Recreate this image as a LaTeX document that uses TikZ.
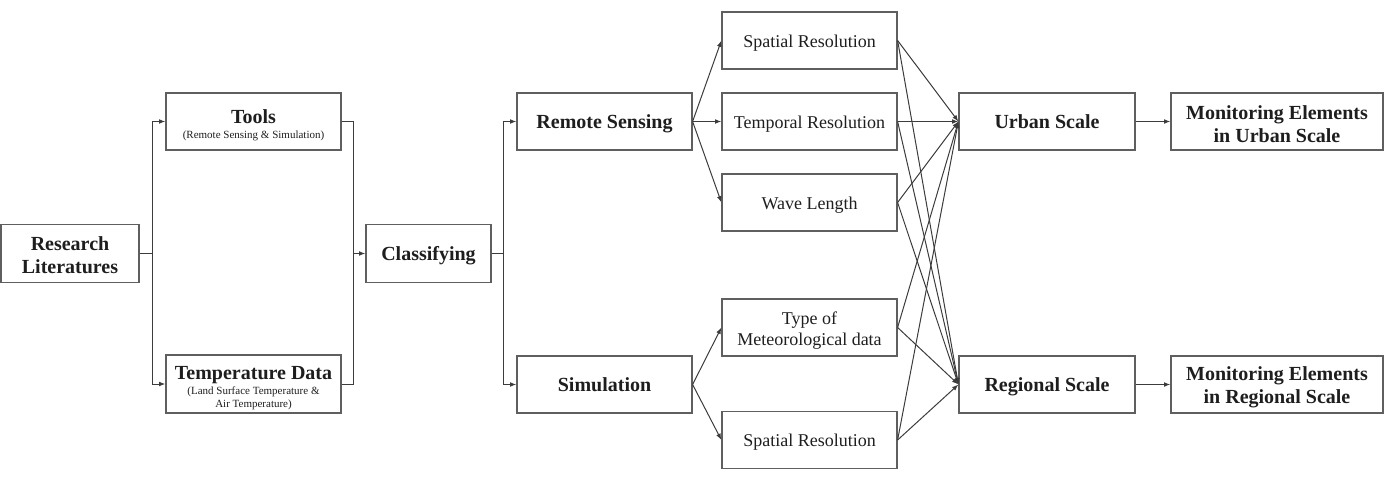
\documentclass[tikz,border=0pt]{standalone}
\usepackage{fontspec}
\setmainfont{Liberation Serif}
\usetikzlibrary{arrows.meta}
\definecolor{boxc}{RGB}{95,95,95}
\definecolor{linec}{RGB}{60,60,60}
\definecolor{txtc}{RGB}{30,30,30}
\begin{document}
\begin{tikzpicture}[x=0.5pt,y=-0.5pt,
  box/.style={draw=boxc, line width=0.6pt, minimum width=87.5pt, minimum height=28.5pt, inner sep=0pt, align=center, text=txtc},
  big/.style={font=\fontsize{10}{11.5}\selectfont\bfseries},
  mid/.style={font=\fontsize{9}{10.5}\selectfont},
  small/.style={font=\fontsize{5.5}{6.5}\selectfont},
  one/.style={text height=6.8pt, text depth=0pt},
  arr/.style={draw=linec, line width=0.5pt, -{Latex[length=3.2pt,width=2.4pt]}},
  ln/.style={draw=linec, line width=0.5pt}]
\useasboundingbox (0,0) rectangle (1392,487);
% left part
\node[box,big,minimum width=69pt,minimum height=29pt] (rl) at (70,253.5) {\rule{0pt}{8.6pt}Research\\Literatures};
\node[box,small] (tools) at (253.5,121.5) {{\fontsize{10}{11}\selectfont\bfseries\rule{0pt}{10.8pt}Tools}\\[1.1pt](Remote Sensing \& Simulation)};
\node[box,small,minimum height=29pt] (temp) at (253.5,384) {{\fontsize{10}{11}\selectfont\bfseries\rule{0pt}{10.7pt}Temperature Data}\\[0.6pt](Land Surface Temperature \&\\Air Temperature)};
\node[box,big,one,minimum width=62.5pt,minimum height=29pt] (cls) at (428.5,253.5) {Classifying};
% second column
\node[box,big,one] (rs) at (604.5,121.5) {Remote Sensing};
\node[box,big,one] (sim) at (604.5,384.5) {Simulation};
% middle column
\node[box,mid,one] (sr1) at (809.5,40.5) {Spatial Resolution};
\node[box,mid,one] (tr) at (809.5,121.5) {Temporal Resolution};
\node[box,mid,one] (wl) at (809.5,202.5) {Wave Length};
\node[box,mid] (tm) at (809.5,327.5) {\rule{0pt}{9.2pt}Type of\\Meteorological data};
\node[box,mid,one] (sr2) at (809.5,440) {Spatial Resolution};
% scales
\node[box,big,one,minimum width=88pt] (us) at (1047,121.5) {Urban Scale};
\node[box,big,one,minimum width=88pt] (gs) at (1047,384.5) {Regional Scale};
\node[box,big,minimum width=106pt] (mu) at (1277,121.5) {\rule{0pt}{9.8pt}Monitoring Elements\\in Urban Scale};
\node[box,big,minimum width=106pt] (mr) at (1277,384.5) {\rule{0pt}{9.8pt}Monitoring Elements\\in Regional Scale};
% connectors left
\coordinate (j1) at (152,253.5);
\draw[ln] (rl.east) -- (j1);
\draw[arr] (j1) |- (tools.west);
\draw[arr] (j1) |- (temp.west);
\coordinate (j2) at (353,253.5);
\draw[ln] (tools.east) -| (j2);
\draw[ln] (temp.east) -| (j2);
\draw[arr] (j2) -- (cls.west);
\coordinate (j3) at (503,253.5);
\draw[ln] (cls.east) -- (j3);
\draw[arr] (j3) |- (rs.west);
\draw[arr] (j3) |- (sim.west);
% fan out
\draw[arr] (rs.east) -- (sr1.west);
\draw[arr] (rs.east) -- (tr.west);
\draw[arr] (rs.east) -- (wl.west);
\draw[arr] (sim.east) -- (tm.west);
\draw[arr] (sim.east) -- (sr2.west);
% crossing
\foreach \n in {sr1,tr,wl,tm,sr2} {
  \draw[arr] (\n.east) -- (us.west);
  \draw[arr] (\n.east) -- (gs.west);
}
\draw[arr] (us.east) -- (mu.west);
\draw[arr] (gs.east) -- (mr.west);
\end{tikzpicture}
\end{document}
